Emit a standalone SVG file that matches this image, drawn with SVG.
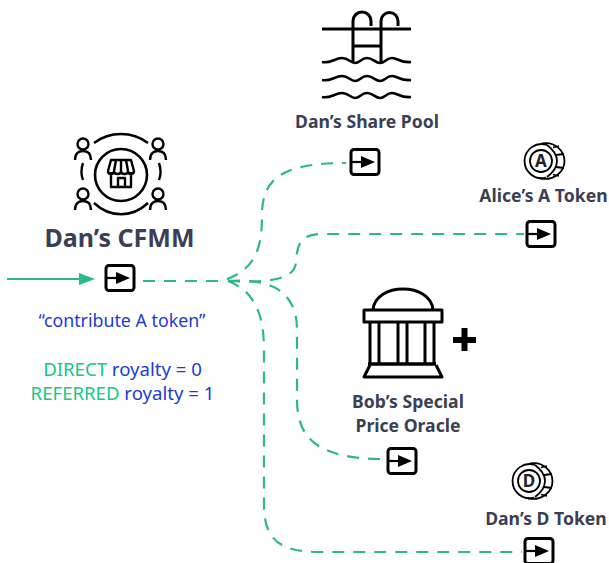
<svg xmlns="http://www.w3.org/2000/svg" width="609" height="563" viewBox="0 0 609 563">
<style>
.t{font-family:"Noto Sans","Open Sans","Liberation Sans",sans-serif;text-anchor:middle}
.lbl{font-size:17.6px;font-weight:700;fill:#3b3f55}
.blue{fill:#1a3cd0;font-size:17.8px;font-weight:400}
.roy{font-size:18.6px}
.grn{fill:#12c98a}
.ic{fill:none;stroke:#000;stroke-width:2.6;stroke-linecap:butt;stroke-linejoin:round}
.dash{fill:none;stroke:#2cb985;stroke-width:2.2;stroke-dasharray:12 9}
</style>
<defs>
<g id="port">
<rect x="-14" y="-12.5" width="28" height="25" rx="3" fill="#fff" stroke="#000" stroke-width="3"/>
<path d="M-14,0H-2" stroke="#000" stroke-width="2.2"/>
<path d="M-4,-6L10,0L-4,6Z" fill="#000"/>
</g>
<g id="coin" class="ic" style="stroke-width:1.8">
<path d="M6,-16A17,17 0 1 0 5,16.5"/>
<circle cx="0" cy="0" r="11"/>
<path d="M1,-17.5C14,-20 23.500,-10 23.500,0C23.500,10 14,20 -1,17.500"/>
<path d="M6,-16C14,-10 16,-5 16,0C16,5 14,10 6,16"/>
<path d="M12,-13.500L18,-15M15,-6L23,-7M15,6L23,7M12,13.500L18,15"/>
</g>
<g id="person" class="ic" style="stroke-width:2.4">
<circle cx="0" cy="-6" r="5.500"/>
<path d="M-8,10C-8,3 -4,1 0,1C4,1 8,3 8,10"/>
</g>
</defs>
<g id="connectors">
<path d="M7,279H80" fill="none" stroke="#2cb985" stroke-width="2.2"/>
<path d="M79,273L95,279L79,285Z" fill="#2cb985"/>
<path class="dash" d="M143,281H222C255,270 262,250 262,215C262,180 280,163 346,163"/>
<path class="dash" d="M228,281C268,283 295,280 296,262C297,245 300,234 322,234H524"/>
<path class="dash" d="M228,281C262,279 297,285 297,330V400C297,440 320,459 384,459"/>
<path class="dash" d="M228,281C255,291 264,315 264,350V505C264,540 280,552 320,552H522"/>
</g>
<g id="cfmm">
<circle class="ic" cx="121" cy="175" r="26"/>
<path class="ic" style="stroke-width:2.4" d="M108,171L111,160H131L134,171M111,172V187H131V172M108,171C108,175 114,175 114,171C114,175 121,175 121,171C121,175 128,175 128,171C128,175 134,175 134,171M116,160L114,171M121,160V171M126,160L128,171M118,187V178H125V187"/>
<path class="ic" style="stroke-width:2.4" d="M94,143C110,131 132,131 148,143M94,203C110,218 132,218 148,203M83,163C81,169 81,175 83,180M159,163C161,169 161,175 159,180"/>
<use href="#person" x="83" y="150"/><use href="#person" x="158" y="150"/>
<use href="#person" x="83" y="200"/><use href="#person" x="158" y="200"/>
<text class="t" x="119.500" y="247" font-size="25" font-weight="700" fill="#3b3f55">Dan’s CFMM</text>
<use href="#port" x="120" y="278"/>
<text class="t blue" x="122" y="327">“contribute A token”</text>
<text class="t blue roy" x="122.500" y="376"><tspan class="grn">DIRECT</tspan> royalty = 0</text>
<text class="t blue roy" x="122.500" y="400"><tspan class="grn">REFERRED</tspan> royalty = 1</text>
</g>
<g id="share-pool">
<path class="ic" style="stroke-width:3" d="M322,29H411M353,62V21A9,9 0 0 1 371,21V26M381,62V21A8.500,8.500 0 0 1 398,21V26M353,46H381"/>
<path class="ic" style="stroke-width:2.6" d="M322,62C330,64 335,58 342,58S350,63 355,63S361,58 367,58S375,63 380,63S386,58 392,58S400,63 411,62M322,80C330,82 335,76 342,76S350,81 355,81S361,76 367,76S375,81 380,81S386,76 392,76S400,81 411,80M322,97C330,99 335,93 342,93S350,98 355,98S361,93 367,93S375,98 380,98S386,93 392,93S400,98 411,97"/>
<text class="t lbl" x="367" y="128">Dan’s Share Pool</text>
<use href="#port" x="365" y="162"/>
</g>
<g id="alice-token">
<use href="#coin" x="541" y="161"/>
<text class="t" x="541" y="167" font-size="17" font-weight="700" fill="#222">A</text>
<text class="t lbl" x="543.500" y="202">Alice’s A Token</text>
<use href="#port" x="541" y="234"/>
</g>
<g id="oracle">
<path class="ic" style="stroke-width:3" d="M373,310C375,282 431,282 433,310M364,310H442V322H364ZM370,322V363M379,322V363M398,322V363M407,322V363M425,322V363M434,322V363"/>
<path class="ic" style="stroke-width:3.400" d="M368,364H436"/>
<path class="ic" style="stroke-width:3" d="M370,365L364,377H442L436,365"/>
<path d="M453,340H476M464.500,328V351" stroke="#000" stroke-width="6" fill="none"/>
<text class="t lbl" x="408" y="408">Bob’s Special</text>
<text class="t lbl" x="408" y="432">Price Oracle</text>
<use href="#port" x="402" y="461"/>
</g>
<g id="dan-token">
<use href="#coin" x="529" y="481"/>
<text class="t" x="529" y="487" font-size="17" font-weight="700" fill="#222">D</text>
<text class="t lbl" x="546" y="525">Dan’s D Token</text>
<use href="#port" x="539" y="551"/>
</g>
</svg>
